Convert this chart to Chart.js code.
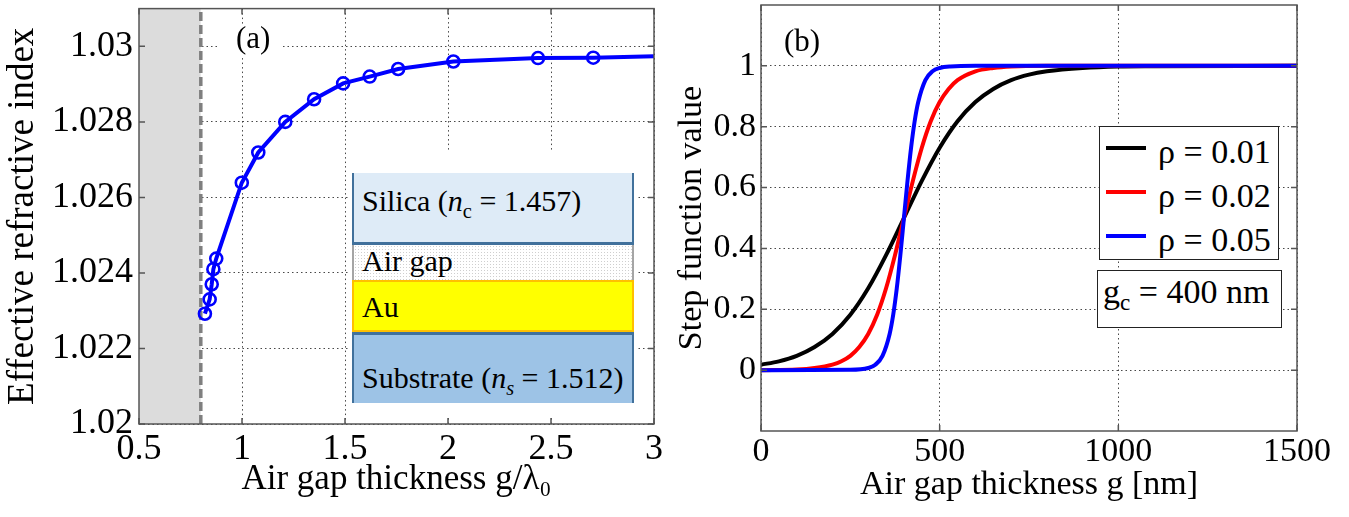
<!DOCTYPE html>
<html><head><meta charset="utf-8">
<script src="https://cdn.jsdelivr.net/npm/chart.js@4.4.1/dist/chart.umd.min.js"></script>
<style>
html,body{margin:0;padding:0;background:#fff;}
#wrap{position:relative;width:1349px;height:517px;overflow:hidden;font-family:"Liberation Serif","Times New Roman",serif;color:#000;}
canvas{position:absolute;top:0;}
#cA{left:0;}
#cB{left:670px;}
.abs{position:absolute;box-sizing:border-box;}
.txt{position:absolute;white-space:nowrap;line-height:1;}
sub{font-size:0.68em;vertical-align:-0.32em;line-height:0;}
.layer{position:absolute;left:352px;width:282px;box-sizing:border-box;}
.layer .txt{left:8px;font-size:30px;}
</style></head>
<body><div id="wrap">
<canvas id="cA" width="690" height="517"></canvas>
<canvas id="cB" width="679" height="517"></canvas>

<div class="abs" style="left:218px;top:26px;width:64px;height:32px;background:#fff;"></div>
<div class="txt" style="left:236px;top:22px;font-size:31px;">(a)</div>
<div class="txt" style="left:784px;top:25px;font-size:31px;">(b)</div>

<div class="abs" style="left:349px;top:150px;width:287px;height:267px;background:#fff;"></div>
<div class="layer" style="top:173px;height:72px;background:#deebf7;border-left:2px solid #41719c;border-right:2px solid #41719c;border-bottom:3px solid #41719c;">
  <div class="txt" style="top:13px;">Silica (<i>n</i><sub>c</sub> = 1.457)</div></div>
<div class="layer" style="top:245px;height:35px;background-color:#fff;background-image:radial-gradient(#cfcfcf 0.7px,transparent 0.9px);background-size:3px 3px;border-left:2px solid #a5a5a5;border-right:2px solid #a5a5a5;">
  <div class="txt" style="top:1px;">Air gap</div></div>
<div class="layer" style="top:280px;height:52px;background:#ffff00;border:2px solid #ffc000;">
  <div class="txt" style="top:10px;">Au</div></div>
<div class="layer" style="top:332px;height:71px;background:#9dc3e6;border-left:2px solid #41719c;border-right:2px solid #41719c;border-top:3px solid #41719c;">
  <div class="txt" style="top:28px;">Substrate (<i>n<sub>s</sub></i> = 1.512)</div></div>

<div id="legend" class="abs" style="left:1099px;top:126px;width:180px;height:134px;background:#fff;border:1.5px solid #222;"></div>
<div class="abs" style="left:1097px;top:270px;width:185px;height:58px;background:#fff;border:1.5px solid #222;"></div>
<div class="txt" style="left:1103px;top:275px;font-size:34px;">g<sub>c</sub> = 400 nm</div>
</div>
<script>
// ---------- panel (a) data ----------
const gapNorm = [0.820, 0.843, 0.853, 0.861, 0.875, 0.999, 1.079, 1.210, 1.350, 1.491, 1.620, 1.758, 2.026, 2.437, 2.705];
const nEff    = [1.02292, 1.02330, 1.02370, 1.02410, 1.02438, 1.02639, 1.02719, 1.02800, 1.02860, 1.02902, 1.02920, 1.02940, 1.02960, 1.02969, 1.02970];
const lineEndGap = 3.0, lineEndN = 1.02974;
const cutoffGap = 0.80;
const aXTicks = [0.5, 1, 1.5, 2, 2.5, 3];
const aXLabels = ['0.5', '1', '1.5', '2', '2.5', '3'];
const aYTicks = [1.02, 1.022, 1.024, 1.026, 1.028, 1.03];
const aYLabels = ['1.02', '1.022', '1.024', '1.026', '1.028', '1.03'];
const aXRange = [0.5, 3], aYRange = [1.02, 1.031];

// ---------- panel (b) data ----------
const gBlack = [0, 50, 100, 150, 200, 250, 300, 350, 400, 450, 500, 550, 600, 650, 700, 750, 800, 900, 1000, 1100, 1500];
const sBlack = [0.018, 0.029, 0.047, 0.076, 0.119, 0.182, 0.269, 0.378, 0.5, 0.622, 0.731, 0.818, 0.881, 0.924, 0.953, 0.971, 0.982, 0.993, 0.998, 0.999, 1.0];
const gRed = [0, 100, 150, 200, 225, 250, 275, 300, 325, 350, 375, 400, 425, 450, 475, 500, 525, 550, 600, 650, 700, 800, 1500];
const sRed = [0.000, 0.002, 0.007, 0.018, 0.029, 0.047, 0.076, 0.119, 0.182, 0.269, 0.378, 0.5, 0.622, 0.731, 0.818, 0.881, 0.924, 0.953, 0.982, 0.993, 0.998, 1.0, 1.0];
const gBlue = [0, 250, 300, 320, 340, 360, 370, 380, 390, 400, 410, 420, 430, 440, 460, 480, 500, 530, 600, 1500];
const sBlue = [0.000, 0.001, 0.007, 0.018, 0.047, 0.119, 0.182, 0.269, 0.378, 0.5, 0.622, 0.731, 0.818, 0.881, 0.953, 0.982, 0.993, 0.998, 1.0, 1.0];
const rhoLabels = ['ρ = 0.01', 'ρ = 0.02', 'ρ = 0.05'];
const rhoColors = ['#000000', '#ff0000', '#0000ff'];
const bXTicks = [0, 500, 1000, 1500];
const bYTicks = [0, 0.2, 0.4, 0.6, 0.8, 1];
const bYLabels = ['0', '0.2', '0.4', '0.6', '0.8', '1'];
const bXRange = [0, 1500], bYRange = [-0.2, 1.2];

const pts = (xs, ys) => xs.map((x, i) => ({x, y: ys[i]}));
const FONT = '"Liberation Serif", "Times New Roman", serif';
Chart.defaults.font.family = FONT;
Chart.defaults.color = '#000';

const framePlugin = {
  id: 'frame',
  afterDatasetsDraw(chart) {
    const {ctx, chartArea: a, scales} = chart;
    ctx.save();
    ctx.strokeStyle = '#555';
    ctx.lineWidth = 1.5;
    ctx.beginPath();
    scales.x.ticks.forEach(t => {
      const p = scales.x.getPixelForValue(t.value);
      ctx.moveTo(p, a.bottom); ctx.lineTo(p, a.bottom - 6);
      ctx.moveTo(p, a.top); ctx.lineTo(p, a.top + 6);
    });
    scales.y.ticks.forEach(t => {
      const p = scales.y.getPixelForValue(t.value);
      ctx.moveTo(a.left, p); ctx.lineTo(a.left + 6, p);
      ctx.moveTo(a.right, p); ctx.lineTo(a.right - 6, p);
    });
    ctx.stroke();
    ctx.strokeRect(a.left, a.top, a.right - a.left, a.bottom - a.top);
    ctx.restore();
  }
};

function mkScale(range, ticks, labels, fontSize, titleText, titleSize, titlePad, tickPad, fixed, axis) {
  return {
    type: 'linear', min: range[0], max: range[1],
    afterBuildTicks: s => { s.ticks = ticks.map(v => ({value: v})); },
    afterFit: s => {
      if (axis === 'x') s.height = fixed; else s.width = fixed;
      s.paddingLeft = 0; s.paddingRight = 0; s.paddingTop = 0; s.paddingBottom = 0;
    },
    ticks: {
      autoSkip: false, maxRotation: 0, padding: tickPad,
      font: {family: FONT, size: fontSize},
      callback: (v) => { const i = ticks.indexOf(v); return i >= 0 ? labels[i] : ''; }
    },
    grid: {color: 'rgba(40,40,40,0.85)', lineWidth: 1, drawTicks: false},
    border: {display: false, dash: [1.5, 3]},
    title: {display: true, text: titleText, font: {family: FONT, size: titleSize}, padding: {top: titlePad, bottom: titlePad}}
  };
}

new Chart(document.getElementById('cA'), {
  type: 'line',
  data: {datasets: [
    {data: pts(gapNorm.concat([lineEndGap]), nEff.concat([lineEndN])), borderColor: '#0000ff', borderWidth: 4,
     pointRadius: gapNorm.map(() => 6).concat([0]), pointBorderWidth: 2.6, pointBorderColor: '#0000ff',
     pointBackgroundColor: 'rgba(0,0,0,0)', tension: 0, order: 0},
    {data: pts([cutoffGap, cutoffGap], aYRange), borderColor: '#7f7f7f', borderWidth: 3.5, borderDash: [9, 4],
     pointRadius: 0, order: 1},
    {data: pts([aXRange[0], cutoffGap], [aYRange[1], aYRange[1]]), borderWidth: 0, borderColor: 'rgba(0,0,0,0)',
     backgroundColor: '#dcdcdc', fill: 'start', pointRadius: 0, order: 2}
  ]},
  options: {
    responsive: false, animation: false, devicePixelRatio: 1,
    layout: {padding: {left: 0, top: 5, right: 36, bottom: 0}},
    plugins: {legend: {display: false}, tooltip: {enabled: false}},
    scales: {
      x: mkScale(aXRange, aXTicks, aXLabels, 36, 'Air gap thickness g/λ₀', 35, 16, 4, 93, 'x'),
      y: mkScale(aYRange, aYTicks, aYLabels, 36, 'Effective refractive index', 37, 1, 6, 139, 'y')
    }
  },
  plugins: [framePlugin]
});

const bSeries = [[gBlack, sBlack], [gRed, sRed], [gBlue, sBlue]];
new Chart(document.getElementById('cB'), {
  type: 'line',
  data: {datasets: bSeries.map((s, i) => ({
    label: rhoLabels[i], data: pts(s[0], s[1]), borderColor: rhoColors[i], borderWidth: 4,
    pointRadius: 0, cubicInterpolationMode: 'monotone', order: 2 - i
  }))},
  options: {
    responsive: false, animation: false, devicePixelRatio: 1,
    layout: {padding: {left: 0, top: 5, right: 52, bottom: 0}},
    plugins: {legend: {display: false}, tooltip: {enabled: false}},
    scales: {
      x: mkScale(bXRange, bXTicks, bXTicks.map(String), 34, 'Air gap thickness g [nm]', 34, 12, 1, 86, 'x'),
      y: mkScale(bYRange, bYTicks, bYLabels, 34, 'Step function value', 34, 2, 5, 91, 'y')
    }
  },
  plugins: [framePlugin]
});

// HTML legend built from the series labels/colours
const wrap = document.getElementById('wrap');
const baseY = [148, 192, 236];
rhoLabels.forEach((lab, i) => {
  const ln = document.createElement('div');
  ln.className = 'abs';
  ln.style.cssText = `left:1106px;top:${baseY[i] - 2}px;width:40px;height:4px;background:${rhoColors[i]};`;
  wrap.appendChild(ln);
  const t = document.createElement('div');
  t.className = 'txt';
  t.style.cssText = `left:1158px;top:${baseY[i] - 13}px;font-size:34px;`;
  t.textContent = lab;
  wrap.appendChild(t);
});
</script>
</body></html>
